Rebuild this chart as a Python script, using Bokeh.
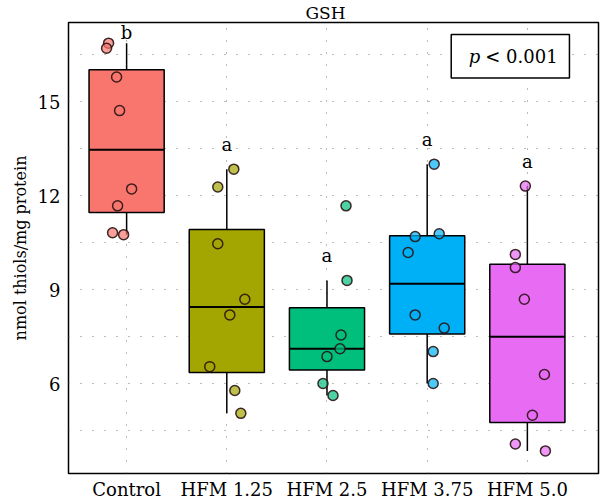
from bokeh.plotting import figure
from bokeh.models import Range1d, FixedTicker, ColumnDataSource
from bokeh.core.properties import value
from bokeh.embed import file_html
from bokeh.resources import INLINE
import numpy as np

# GSH content per group (nmol thiols/mg protein)
groups = ["Control", "HFM 1.25", "HFM 2.5", "HFM 3.75", "HFM 5.0"]
colors = ["#F8766D", "#A3A500", "#00BF7D", "#00B0F6", "#E76BF3"]
letters = ["b", "a", "a", "a", "a"]

control = [16.87, 16.71, 15.79, 14.72, 12.22, 11.68, 10.82, 10.76]
hfm_125 = [12.85, 12.28, 10.47, 8.70, 8.20, 6.55, 5.79, 5.06]
hfm_250 = [9.30, 7.56, 7.12, 6.87, 6.01, 5.63, 11.68]
hfm_375 = [13.01, 10.70, 10.79, 10.19, 8.20, 7.78, 7.03, 6.01]
hfm_500 = [12.31, 10.13, 9.71, 8.70, 6.30, 5.00, 4.08, 3.86]

# horizontal jitter of each point (in category units)
jit_control = [-0.18, -0.20, -0.10, -0.07, 0.05, -0.09, -0.14, -0.03]
jit_125 = [0.07, -0.09, -0.09, 0.18, 0.03, -0.17, 0.08, 0.14]
jit_250 = [0.20, 0.14, 0.13, 0.00, -0.04, 0.06, 0.19]
jit_375 = [0.07, -0.12, 0.12, -0.19, -0.12, 0.17, 0.06, 0.06]
jit_500 = [-0.02, -0.12, -0.12, -0.03, 0.17, 0.05, -0.12, 0.18]

y_ticks = [6, 9, 12, 15]
y_minor = [4.5, 7.5, 10.5, 13.5, 16.5]
p_text = "< 0.001"

series = [control, hfm_125, hfm_250, hfm_375, hfm_500]
jitters = [jit_control, jit_125, jit_250, jit_375, jit_500]

FONT = "DejaVu Serif"
SERIF = value(FONT)
X_LO, X_HI = 0.42, 5.71
Y_LO, Y_HI = 3.14, 17.53

p = figure(width=600, height=502, output_backend="svg", toolbar_location=None,
           x_range=Range1d(X_LO, X_HI), y_range=Range1d(Y_LO, Y_HI),
           min_border_left=68, min_border_right=2, min_border_top=22,
           min_border_bottom=27)
p.background_fill_color = "white"
p.border_fill_color = "white"
p.outline_line_color = "black"
p.outline_line_width = 1.5

# title
p.title.text = "GSH"
p.title.align = "left"
p.title.offset = 237
p.title.standoff = 0
p.title.text_font = FONT
p.title.text_font_size = "17px"
p.title.text_font_style = "normal"
p.title.text_color = "black"

# axes
xpos = list(range(1, len(groups) + 1))
p.xaxis.ticker = FixedTicker(ticks=xpos)
p.xaxis.major_label_overrides = {i: g for i, g in zip(xpos, groups)}
p.yaxis.ticker = FixedTicker(ticks=y_ticks, minor_ticks=y_minor)
p.yaxis.axis_label = "nmol thiols/mg protein"
for ax in (p.xaxis, p.yaxis):
    ax.axis_line_color = None
    ax.major_tick_line_color = None
    ax.minor_tick_line_color = None
    ax.major_tick_out = 0
    ax.minor_tick_out = 0
    ax.major_tick_in = 0
    ax.minor_tick_in = 0
    ax.major_label_text_font = FONT
    ax.major_label_text_font_size = "18px"
    ax.major_label_text_color = "black"
p.xaxis.major_label_standoff = 5
p.yaxis.major_label_standoff = 8
p.yaxis.axis_label_text_font = FONT
p.yaxis.axis_label_text_font_size = "16px"
p.yaxis.axis_label_text_font_style = "normal"
p.yaxis.axis_label_text_color = "black"
p.yaxis.axis_label_standoff = 5

# dotted grid
for g in (p.xgrid, p.ygrid):
    g.grid_line_color = "#777777"
    g.grid_line_dash = "1 11"
    g.grid_line_width = 1
p.ygrid.minor_grid_line_color = "#777777"
p.ygrid.minor_grid_line_dash = "1 11"

# box statistics
stats = []
for vals in series:
    v = np.array(vals)
    q1, med, q3 = np.percentile(v, [25, 50, 75])
    iqr = q3 - q1
    lo = v[v >= q1 - 1.5 * iqr].min()
    hi = v[v <= q3 + 1.5 * iqr].max()
    stats.append((q1, med, q3, lo, hi))

box = ColumnDataSource(dict(
    x=xpos,
    q1=[s[0] for s in stats], med=[s[1] for s in stats], q3=[s[2] for s in stats],
    lo=[s[3] for s in stats], hi=[s[4] for s in stats],
    left=[x - 0.375 for x in xpos], right=[x + 0.375 for x in xpos],
    color=colors,
))

p.segment(x0="x", y0="q3", x1="x", y1="hi", source=box, line_color="black", line_width=1.5)
p.segment(x0="x", y0="lo", x1="x", y1="q1", source=box, line_color="black", line_width=1.5)
p.quad(left="left", right="right", bottom="q1", top="q3", source=box,
       fill_color="color", line_color="black", line_width=1.5)
p.segment(x0="left", y0="med", x1="right", y1="med", source=box,
          line_color="black", line_width=2)

# jittered raw points
px, py, pc = [], [], []
for i, (vals, jit) in enumerate(zip(series, jitters)):
    for v, j in zip(vals, jit):
        px.append(xpos[i] + j)
        py.append(v)
        pc.append(colors[i])
p.scatter(px, py, size=10, fill_color=pc, fill_alpha=0.7,
          line_color="#2a1414", line_alpha=0.9, line_width=1.5)

# significance letters above the upper whiskers
ly = [min(s[4] + 0.78, Y_HI - 0.32) for s in stats]
p.text(x=xpos, y=ly, text=letters, text_font=SERIF, text_font_size="18px",
       text_align="center", text_baseline="middle", text_color="black")

# p-value box
p.quad(left=[4.24], right=[5.42], bottom=[15.76], top=[17.15],
       fill_color="white", line_color="black", line_width=1.5)
p.text(x=[4.53], y=[16.455], text=["p"], text_font=SERIF, text_font_style="italic",
       text_font_size="18px", text_align="right", text_baseline="middle",
       text_color="black")
p.text(x=[4.58], y=[16.455], text=[p_text], text_font=SERIF,
       text_font_size="18px", text_align="left", text_baseline="middle",
       text_color="black")

open("out.html", "w").write(file_html(p, INLINE))
